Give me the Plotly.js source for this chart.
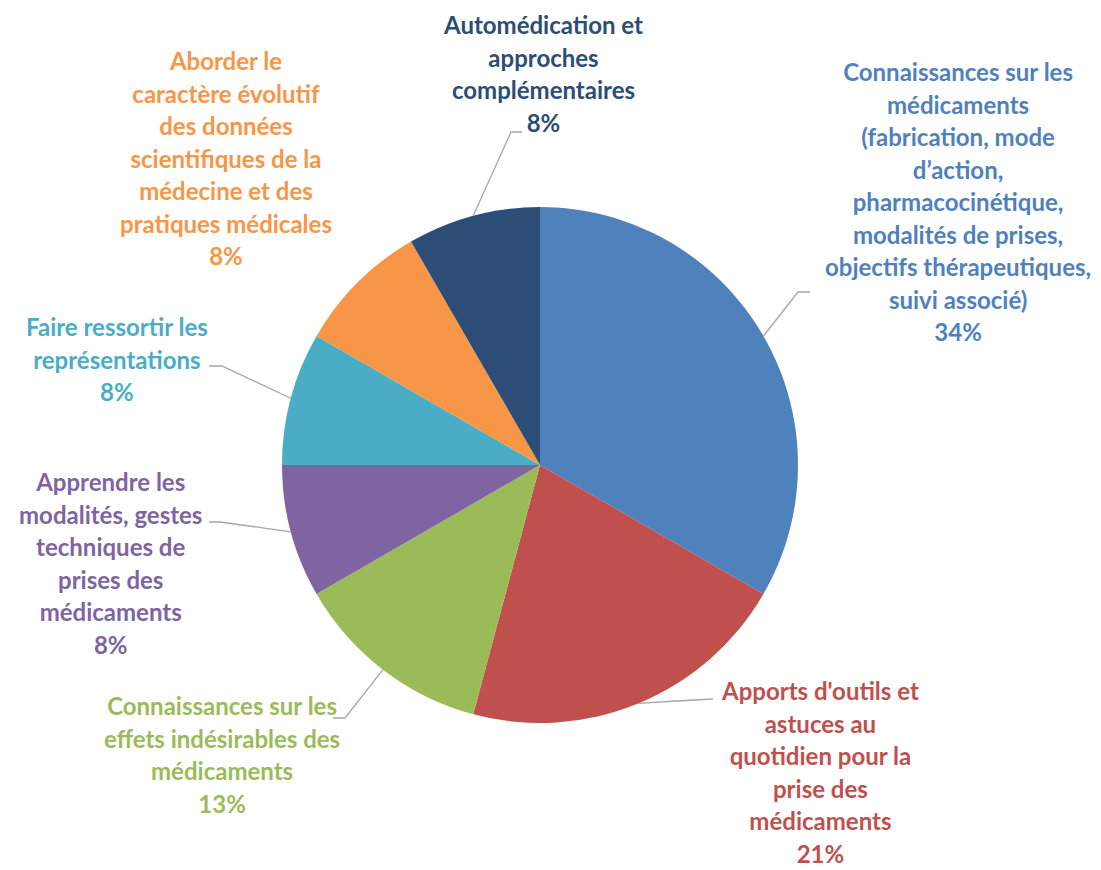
<!DOCTYPE html>
<html>
<head>
<meta charset="utf-8">
<script src="https://cdn.plot.ly/plotly-3.0.1.min.js"></script>
<style>html,body{margin:0;padding:0;background:#fff;}#chart{width:1101px;height:870px;}</style>
</head>
<body>
<div id="chart"></div>
<script>
// ---- data ----
const categories = [
  "Connaissances sur les médicaments (fabrication, mode d’action, pharmacocinétique, modalités de prises, objectifs thérapeutiques, suivi associé)",
  "Apports d'outils et astuces au quotidien pour la prise des médicaments",
  "Connaissances sur les effets indésirables des médicaments",
  "Apprendre les modalités, gestes techniques de prises des médicaments",
  "Faire ressortir les représentations",
  "Aborder le caractère évolutif des données scientifiques de la médecine et des pratiques médicales",
  "Automédication et approches complémentaires"
];
const counts = [8, 5, 3, 2, 2, 2, 2];
const pctLabels = ["34%", "21%", "13%", "8%", "8%", "8%", "8%"];
const labelLines = [
  ["Connaissances sur les", "médicaments", "(fabrication, mode", "d’action,", "pharmacocinétique,", "modalités de prises,", "objectifs thérapeutiques,", "suivi associé)"],
  ["Apports d'outils et", "astuces au", "quotidien pour la", "prise des", "médicaments"],
  ["Connaissances sur les", "effets indésirables des", "médicaments"],
  ["Apprendre les", "modalités, gestes", "techniques de", "prises des", "médicaments"],
  ["Faire ressortir les", "représentations"],
  ["Aborder le", "caractère évolutif", "des données", "scientifiques de la", "médecine et des", "pratiques médicales"],
  ["Automédication et", "approches", "complémentaires"]
];
const colors = ["#4F81BD", "#C0504D", "#9BBB59", "#8064A2", "#4BACC6", "#F79646", "#2C4D75"];

// ---- layout (pixels) ----
const W = 1101, H = 870;
const cx = 540, cy = 465, R = 258;
// label centre, elbow and end of leader line (null = no leader line)
const labelPos = [
  {x: 958, y: 202, elbow: [798, 292], end: [810, 292]},
  {x: 820, y: 772, elbow: [676, 701], end: [713, 699]},
  {x: 222, y: 754, elbow: [345, 718], end: [333, 718]},
  {x: 110, y: 563, elbow: [220, 522], end: [209, 522]},
  {x: 117, y: 359, elbow: [222, 366], end: [209, 366]},
  {x: 226, y: 158, elbow: null, end: null},
  {x: 543, y: 74, elbow: [511, 132], end: [522, 132]}
];
const FS = 24, LINE = 32.5;

const px2x = p => p / W;
const py2y = p => 1 - p / H;

const total = counts.reduce((a, b) => a + b, 0);
let cum = 0;
const annotations = [];
const shapes = [];
counts.forEach((v, i) => {
  const mid = (cum + v / 2) / total * 2 * Math.PI;
  cum += v;
  const sx = cx + R * Math.sin(mid), sy = cy - R * Math.cos(mid);
  const lp = labelPos[i];
  const lines = labelLines[i].concat([pctLabels[i]]);
  const text = lines.map(l => `<span style="font-size:${FS}px">${l}</span>`).join("<br>");
  annotations.push({
    xref: "paper", yref: "paper", x: px2x(lp.x), y: py2y(lp.y),
    xanchor: "center", yanchor: "middle", align: "center", showarrow: false,
    text: text,
    font: {family: "Lato, 'Open Sans', sans-serif", size: LINE / 1.3, color: colors[i], weight: "bold"}
  });
  if (lp.elbow) {
    shapes.push({
      type: "path", xref: "paper", yref: "paper",
      path: `M ${px2x(sx)} ${py2y(sy)} L ${px2x(lp.elbow[0])} ${py2y(lp.elbow[1])} L ${px2x(lp.end[0])} ${py2y(lp.end[1])}`,
      line: {color: "#A6A6A6", width: 1.3}
    });
  }
});

const trace = {
  type: "pie",
  labels: categories,
  values: counts,
  sort: false,
  direction: "clockwise",
  rotation: 0,
  marker: {colors: colors, line: {width: 0}},
  textinfo: "none",
  hoverinfo: "label+percent",
  domain: {x: [px2x(cx - R), px2x(cx + R)], y: [py2y(cy + R), py2y(cy - R)]},
  showlegend: false
};

const layout = {
  width: W, height: H,
  margin: {l: 0, r: 0, t: 0, b: 0},
  paper_bgcolor: "#ffffff",
  showlegend: false,
  annotations: annotations,
  shapes: shapes
};

Plotly.newPlot("chart", [trace], layout, {displayModeBar: false, staticPlot: true});
</script>
</body>
</html>
